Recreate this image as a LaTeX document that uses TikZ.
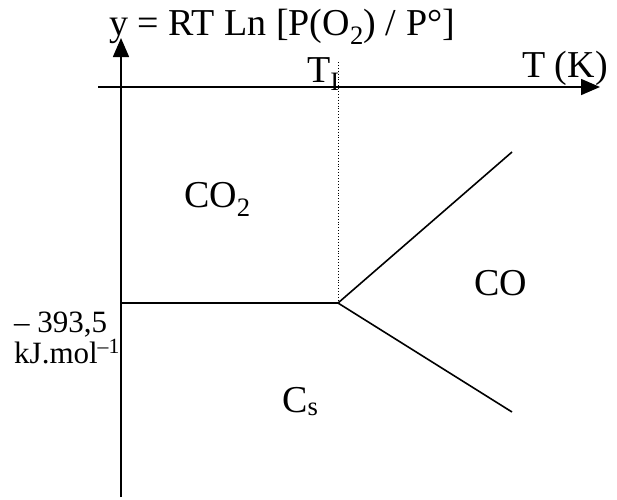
\documentclass[tikz,border=0pt]{standalone}
\usepackage{fontspec}
\setmainfont{Liberation Serif}
\usetikzlibrary{arrows.meta}
\begin{document}
\begin{tikzpicture}[x=1pt,y=-1pt,
  axis/.style={line width=1.6pt,-{Triangle[length=19pt,width=16pt]}},
  bound/.style={line width=1.6pt},
  guide/.style={line width=0.9pt,dotted},
  lbl/.style={inner sep=0pt,anchor=base west,font=\fontsize{38}{42}\selectfont},
  small/.style={inner sep=0pt,anchor=base west,font=\fontsize{31}{33}\selectfont}]
\useasboundingbox (0,0) rectangle (617,499);
% axes
\coordinate (ybot) at (121,497);
\coordinate (ytop) at (121,38);
\coordinate (xleft) at (98,87);
\coordinate (xright) at (600,87);
\draw[axis] (ybot) -- (ytop);
\draw[axis] (xleft) -- (xright);
% phase boundaries
\coordinate (tp) at (338,303);
\coordinate (yp) at (121,303);
\coordinate (up) at (512,152);
\coordinate (dn) at (512,412);
\coordinate (ti) at (338,62);
\draw[bound] (yp) -- (tp);
\draw[bound] (tp) -- (up);
\draw[bound] (tp) -- (dn);
\draw[guide] (ti) -- (tp);
% labels
\node[lbl] (title) at (109,35) {y = RT Ln [P(O\textsubscript{2}) / P°]};
\node[lbl] (tI) at (307,82) {T\textsubscript{I}};
\node[lbl] (tk) at (522,77) {T (K)};
\node[lbl] (co2) at (184,207) {CO\textsubscript{2}};
\node[lbl] (co) at (474,295) {CO};
\node[lbl] (cs) at (282,412) {C\textsubscript{s}};
\node[small] (val) at (14,332) {– 393,5};
\node[small] (unit) at (14,363) {kJ.mol\textsuperscript{–1}};
\end{tikzpicture}
\end{document}
